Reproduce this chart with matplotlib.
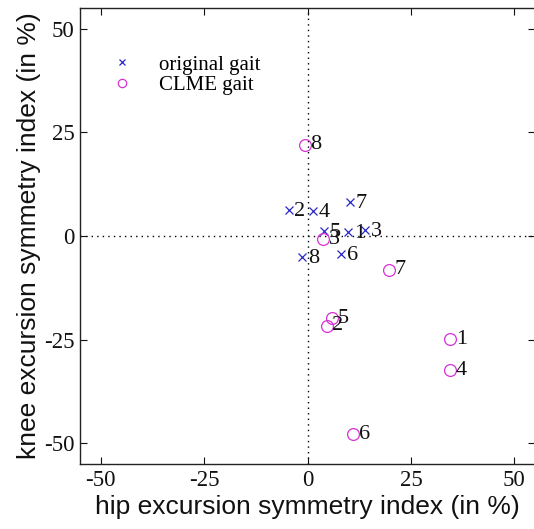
import matplotlib
matplotlib.use("Agg")
import matplotlib.pyplot as plt

plt.rcParams["axes.unicode_minus"] = False

labels = ["1", "2", "3", "4", "5", "6", "7", "8"]
orig_hip = [9.9, -4.5, 13.9, 1.4, 4.0, 8.2, 10.3, -1.3]
orig_knee = [1.0, 6.3, 1.4, 6.1, 1.2, -4.4, 8.1, -5.0]
clme_hip = [34.5, 4.7, 3.8, 34.5, 5.9, 11.0, 19.7, -0.7]
clme_knee = [-24.9, -21.7, -0.8, -32.4, -19.9, -47.8, -8.2, 22.0]
ticks = [-50, -25, 0, 25, 50]

serif = ["Liberation Serif", "DejaVu Serif"]
sans = ["Liberation Sans", "DejaVu Sans"]

fig = plt.figure(figsize=(5.34, 5.29), dpi=100)
ax = fig.add_axes([80/534, (529-464)/529, (535-80)/534, (464-8)/529])

ax.axvline(0, color="black", linestyle=(0, (1, 3)), linewidth=1.0, zorder=1)
ax.axhline(0, color="black", linestyle=(0, (1, 3)), linewidth=1.0, zorder=1)

ax.plot(orig_hip, orig_knee, linestyle="none", marker="x", color="#2828c8",
        markersize=6, markeredgewidth=0.9, label="original gait", zorder=3)
ax.plot(clme_hip, clme_knee, linestyle="none", marker="o", markerfacecolor="none",
        markeredgecolor="#d830d8", markersize=8.5, markeredgewidth=0.9,
        label="CLME gait", zorder=3)

for lab, x, y in zip(labels, orig_hip, orig_knee):
    ax.annotate(lab, (x, y), xytext=(4, -1), textcoords="offset points",
                ha="left", va="center", fontsize=16, family=serif, color="#111111")
for lab, x, y in zip(labels, clme_hip, clme_knee):
    ax.annotate(lab, (x, y), xytext=(4, 0), textcoords="offset points",
                ha="left", va="center", fontsize=16, family=serif, color="#111111")

ax.set_xlim(-55, 55)
ax.set_ylim(-55, 55)
ax.set_xticks(ticks)
ax.set_yticks(ticks)
ax.tick_params(direction="in", top=True, right=True, length=5, width=0.8,
               labelsize=16.5, pad=4, colors="#111111")
for t in ax.get_xticklabels() + ax.get_yticklabels():
    t.set_family(serif)
for s in ax.spines.values():
    s.set_linewidth(1.0)
    s.set_color("#222222")
ax.spines["right"].set_visible(False)

ax.set_xlabel("hip excursion symmetry index (in %)", fontsize=19, family=sans,
              labelpad=3, color="#111111")
ax.set_ylabel("knee excursion symmetry index (in %)", fontsize=19, family=sans,
              labelpad=2, color="#111111")

leg = ax.legend(loc="upper left", bbox_to_anchor=(0.04, 0.915), frameon=False,
                prop={"family": serif, "size": 15}, handletextpad=1.0,
                labelspacing=0.05, borderaxespad=0.0, handlelength=1.5)
for h in leg.legend_handles:
    h.set_markersize(6 if h.get_marker() == "o" else 4.5)

fig.savefig("out.png", dpi=100)
